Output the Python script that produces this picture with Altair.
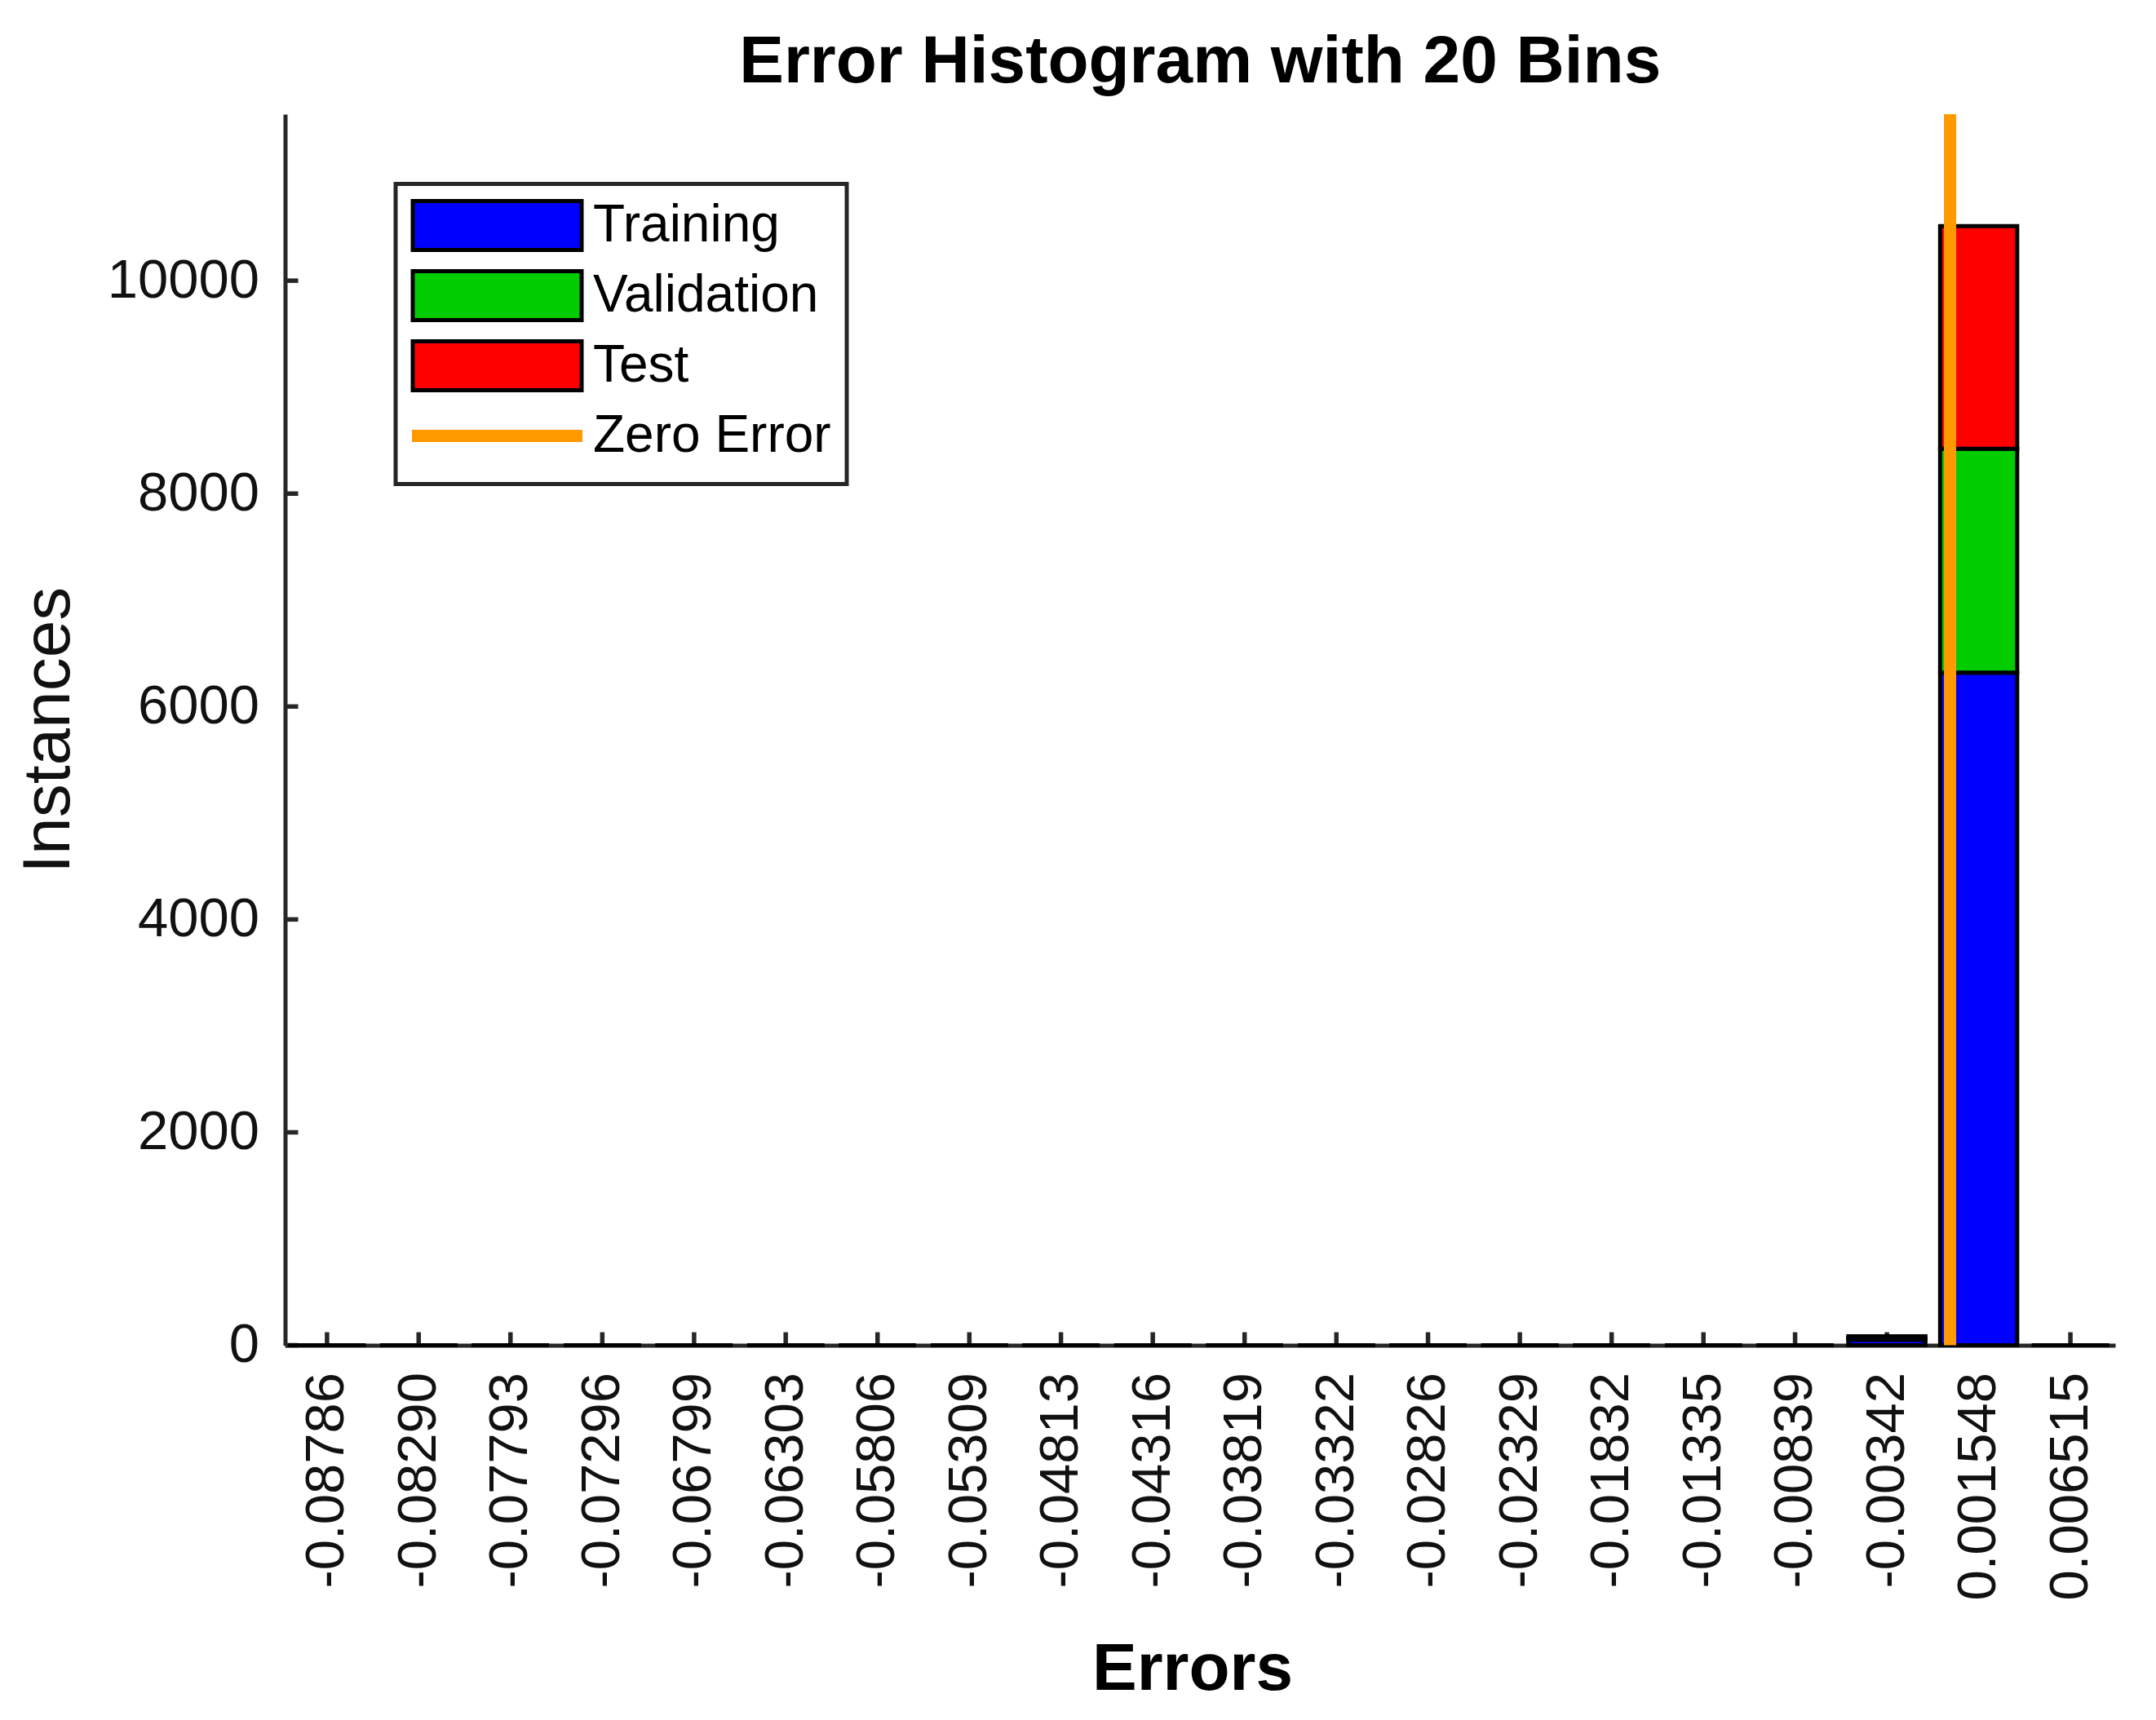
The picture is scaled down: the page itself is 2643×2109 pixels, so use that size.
import json
import altair as alt
import pandas as pd

# ---------------- data ----------------
bin_labels = ["-0.08786", "-0.08290", "-0.07793", "-0.07296", "-0.06799",
              "-0.06303", "-0.05806", "-0.05309", "-0.04813", "-0.04316",
              "-0.03819", "-0.03322", "-0.02826", "-0.02329", "-0.01832",
              "-0.01335", "-0.00839", "-0.00342", "0.001548", "0.006515"]
training   = [0, 0, 0, 0, 0, 0, 0, 0, 0, 0, 0, 0, 0, 0, 0, 0, 0, 52, 6318, 0]
validation = [0, 0, 0, 0, 0, 0, 0, 0, 0, 0, 0, 0, 0, 0, 0, 0, 0, 16, 2103, 0]
test       = [0, 0, 0, 0, 0, 0, 0, 0, 0, 0, 0, 0, 0, 0, 0, 0, 0, 16, 2092, 0]
series_names = ["Training", "Validation", "Test"]
legend_names = ["Training", "Validation", "Test", "Zero Error"]
zero_error = [0.0]
y_tick_values = [0, 2000, 4000, 6000, 8000, 10000]
y_max = 11564
x_limits = [-0.09013, 0.00894]

# ---------------- styling ----------------
W, H = 2243.5, 1509.5
FONT = "Liberation Sans"
AX = "#262626"
TXT = "#111111"
colors = ["#0000FF", "#00CC00", "#FF0000", "#FF9900"]
edges = ["#000000", "#000000", "#000000", "#FF9900"]
rect_path = "M-3.45,-1H3.45V1H-3.45Z"
# thin line symbol; the leading moves give it the same layout height as the boxes
line_path = "M-3.4,-1M-3.4,1M-3.4,-0.1667H3.4V0.1667H-3.4Z"

# ---------------- tables ----------------
centers = [float(s) for s in bin_labels]
n = len(centers)
step = (centers[-1] - centers[0]) / (n - 1)
half = 0.42 * step

rows = []
for i, lab in enumerate(bin_labels):
    for k, (name, vals) in enumerate(zip(series_names, [training, validation, test])):
        rows.append({"bin": lab, "x0": centers[i] - half, "x1": centers[i] + half,
                     "series": name, "order": k, "count": vals[i]})
df = pd.DataFrame(rows)
zero_df = pd.DataFrame({"err": zero_error, "series": ["Zero Error"] * len(zero_error)})
xtick_df = pd.DataFrame({"x0": centers})
ytick_df = pd.DataFrame({"y0": y_tick_values})

xscale = alt.Scale(domain=x_limits, nice=False, zero=False)
yscale = alt.Scale(domain=[0, y_max], nice=False, zero=True)
color_scale = alt.Scale(domain=legend_names, range=colors)
stroke_scale = alt.Scale(domain=legend_names, range=edges)
shape_scale = alt.Scale(domain=legend_names, range=[rect_path, rect_path, rect_path, line_path])

label_expr = f"{json.dumps(bin_labels)}[round((datum.value - ({centers[0]}))/{step})]"

x_axis = alt.Axis(
    values=centers, labelExpr=label_expr, labelAngle=270, labelFont=FONT,
    labelFontSize=67, labelColor=TXT, labelPadding=33, labelOverlap=False,
    labelFlush=False, labelBound=False, labelLimit=0, ticks=False, tickSize=0,
    grid=False, domainColor=AX, domainWidth=5,
    title="Errors", titleFont=FONT, titleFontSize=82, titleFontWeight="bold",
    titleColor="#000000", titleX=1112, titleY=421.5, titleBaseline="alphabetic",
    titleAlign="center",
)
y_axis = alt.Axis(
    values=y_tick_values, format="d", labelFont=FONT, labelFontSize=67,
    labelColor=TXT, labelPadding=32, labelFlush=False, labelLimit=0, ticks=False,
    tickSize=0, grid=False, domainColor=AX, domainWidth=5,
    title="Instances", titleFont=FONT, titleFontSize=82, titleFontWeight="normal",
    titleColor=TXT, titleX=-265.5, titleY=H / 2, titleAngle=270,
    titleBaseline="alphabetic", titleAlign="center",
)

legend_props = dict(
    title=None, symbolStrokeWidth=5, symbolSize=3600, symbolOffset=73.5, labelOffset=85,
)

def X(field):
    return alt.X(field, scale=xscale, axis=x_axis)

def Y(field):
    return alt.Y(field, scale=yscale, axis=y_axis)

xticks = alt.Chart(xtick_df).mark_rule(color=AX, strokeWidth=5.5).encode(
    x=X("x0:Q"), y=alt.value(H - 16), y2=alt.value(H),
)
yticks = alt.Chart(ytick_df).mark_rule(color=AX, strokeWidth=5.5).encode(
    y=Y("y0:Q"), x=alt.value(0), x2=alt.value(16),
)

bars = alt.Chart(df).transform_stack(
    stack="count", groupby=["bin"], as_=["y0", "y1"],
    sort=[alt.SortField("order", order="ascending")],
).mark_rect(stroke="#000000", strokeWidth=5, opacity=1).encode(
    x=X("x0:Q"),
    x2="x1:Q",
    y=Y("y0:Q"),
    y2="y1:Q",
    color=alt.Color("series:N", scale=color_scale, legend=alt.Legend(**legend_props)),
)

# the zero-error line takes its colour from the edge-colour scale
zero_line = alt.Chart(zero_df).mark_rule(strokeWidth=15).encode(
    x=X("err:Q"),
    stroke=alt.Stroke("series:N", scale=stroke_scale, legend=alt.Legend(**legend_props)),
)

# legend-only layer (its rows are filtered away): gives each legend entry its
# symbol shape and edge colour
shape_key = alt.Chart(zero_df).transform_filter("false").mark_point(
    opacity=1, filled=True, strokeWidth=5
).encode(
    x=X("err:Q"),
    shape=alt.Shape("series:N", scale=shape_scale, legend=alt.Legend(**legend_props)),
    stroke=alt.Stroke("series:N", scale=stroke_scale, legend=alt.Legend(**legend_props)),
)

chart = alt.layer(xticks, yticks, bars, zero_line, shape_key).properties(
    width=W, height=H,
    background="white",
    autosize=alt.AutoSizeParams(type="none"),
    padding={"left": 341.5, "top": 132, "right": 40, "bottom": 440},
    title=alt.Title("Error Histogram with 20 Bins", font=FONT, fontSize=82,
                    fontWeight="bold", color="#000000", anchor="middle",
                    frame="group", baseline="alphabetic", offset=34, dy=84),
).configure_view(stroke=None).configure_legend(
    orient="none", legendX=135.5, legendY=85.5, direction="vertical",
    labelFont=FONT, labelFontSize=64, labelColor="#000000", labelLimit=0,
    labelOffset=85, symbolOffset=73.5, symbolSize=3600, symbolStrokeWidth=5,
    symbolType=rect_path,
    rowPadding=5, padding=18.5, strokeColor=AX, strokeWidth=5, fillColor="#FFFFFF",
)

chart.save("out.html", embed_options={"renderer": "svg", "actions": False})
